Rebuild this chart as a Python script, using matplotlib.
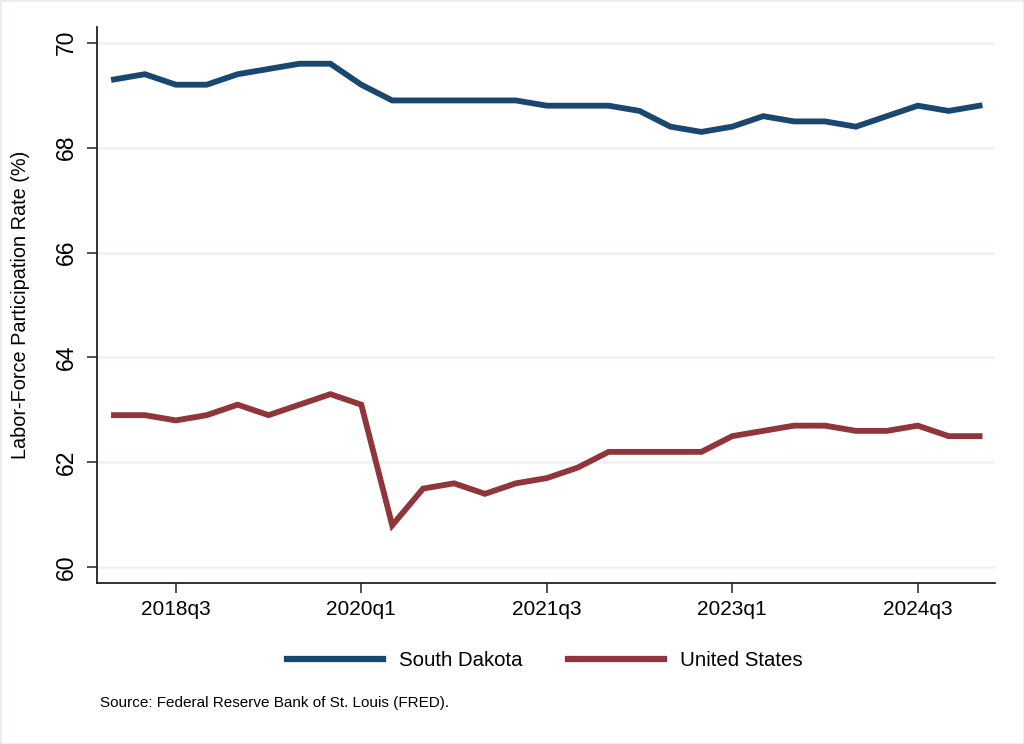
import matplotlib
matplotlib.use('Agg')
import matplotlib.pyplot as plt
from matplotlib.lines import Line2D

# Quarterly labor-force participation rates, 2018q1 - 2025q1
quarters = ['2018q1', '2018q2', '2018q3', '2018q4', '2019q1', '2019q2', '2019q3', '2019q4',
            '2020q1', '2020q2', '2020q3', '2020q4', '2021q1', '2021q2', '2021q3', '2021q4',
            '2022q1', '2022q2', '2022q3', '2022q4', '2023q1', '2023q2', '2023q3', '2023q4',
            '2024q1', '2024q2', '2024q3', '2024q4', '2025q1']
south_dakota = [69.3, 69.4, 69.2, 69.2, 69.4, 69.5, 69.6, 69.6,
                69.2, 68.9, 68.9, 68.9, 68.9, 68.9, 68.8, 68.8,
                68.8, 68.7, 68.4, 68.3, 68.4, 68.6, 68.5, 68.5,
                68.4, 68.6, 68.8, 68.7, 68.8]
united_states = [62.9, 62.9, 62.8, 62.9, 63.1, 62.9, 63.1, 63.3,
                 63.1, 60.8, 61.5, 61.6, 61.4, 61.6, 61.7, 61.9,
                 62.2, 62.2, 62.2, 62.2, 62.5, 62.6, 62.7, 62.7,
                 62.6, 62.6, 62.7, 62.5, 62.5]
tick_labels = ['2018q3', '2020q1', '2021q3', '2023q1', '2024q3']
y_ticks = [60, 62, 64, 66, 68, 70]

navy = '#1a476f'
maroon = '#90353b'
grid_col = '#eaf2f3'

plt.rcParams['font.family'] = ['Liberation Sans', 'DejaVu Sans']

fig = plt.figure(figsize=(10.24, 7.44), dpi=100)
ax = fig.add_axes([0.0947, 0.2164, 0.877, 0.7473])

x = list(range(len(quarters)))
ax.plot(x, south_dakota, color=navy, lw=4.2, solid_joinstyle='miter', label='South Dakota')
ax.plot(x, united_states, color=maroon, lw=4.2, solid_joinstyle='miter', label='United States')

ax.set_xlim(-0.55, 28.5)
ax.set_ylim(59.7, 70.3)
ax.set_yticks(y_ticks)
ax.set_yticklabels([str(v) for v in y_ticks], rotation=90, va='center', fontsize=16.5)
ax.set_xticks([quarters.index(q) for q in tick_labels])
ax.set_xticklabels(tick_labels, fontsize=15)
ax.tick_params(axis='both', length=7.5, width=1.1, color='#222222')
ax.tick_params(axis='x', pad=5)
ax.tick_params(axis='y', pad=6)

ax.yaxis.grid(True, color=grid_col, lw=1.8)
ax.set_axisbelow(True)
for side in ['top', 'right']:
    ax.spines[side].set_visible(False)
for side in ['left', 'bottom']:
    ax.spines[side].set_linewidth(1.3)
    ax.spines[side].set_color('#222222')

ax.set_ylabel('Labor-Force Participation Rate (%)', fontsize=14.3)
ax.yaxis.set_label_coords(-0.075, 0.5)

handles = [Line2D([], [], color=navy, lw=4.5), Line2D([], [], color=maroon, lw=4.5)]
fig.legend(handles, ['South Dakota', 'United States'], loc='center',
           bbox_to_anchor=(0.532, 0.112), ncol=2, frameon=False, fontsize=14.7,
           handlelength=4.7, columnspacing=2.2, handletextpad=0.8)

fig.text(0.098, 0.055, 'Source: Federal Reserve Bank of St. Louis (FRED).', fontsize=11,
         va='center')

# thin light border around the whole image
fig.patches.append(plt.Rectangle((0, 0), 1, 1, transform=fig.transFigure,
                                 fill=False, edgecolor='#e8eef0', lw=2))

plt.savefig('out.png', dpi=100)
plt.close()
